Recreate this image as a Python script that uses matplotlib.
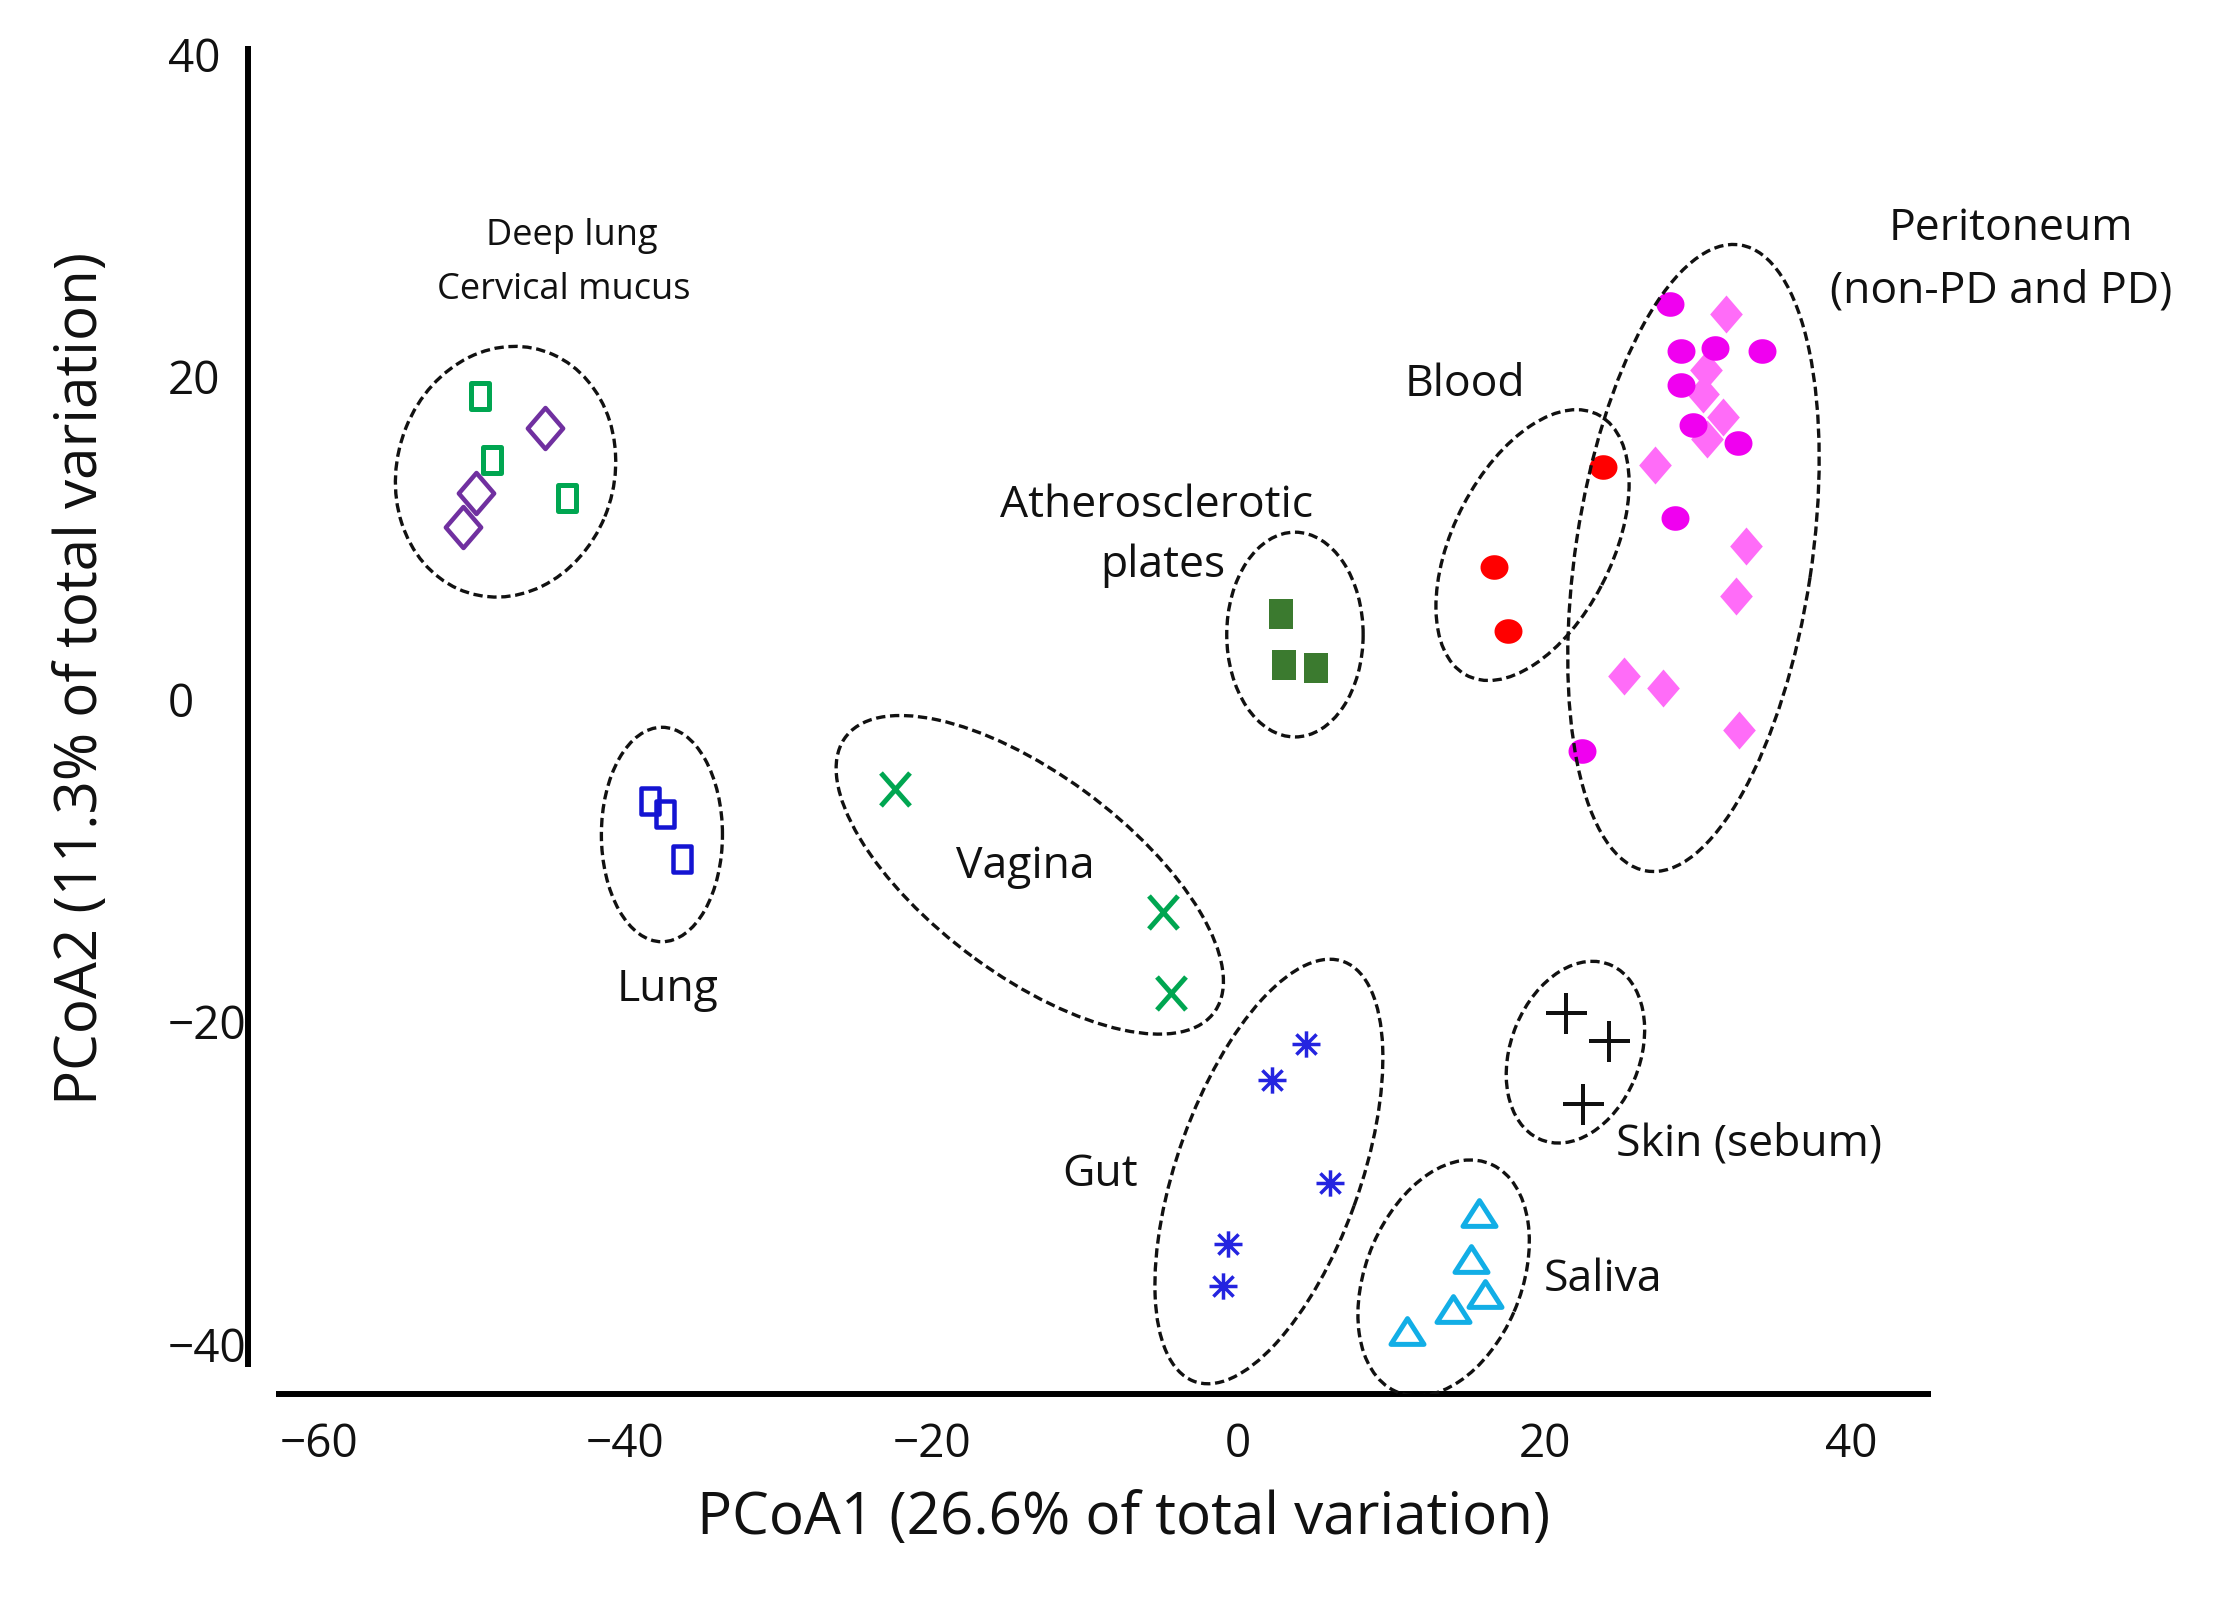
import matplotlib
matplotlib.use('Agg')
import matplotlib.pyplot as plt
from matplotlib.patches import Ellipse
from matplotlib.path import Path
import numpy as np

plt.rcParams['font.family'] = ['Open Sans', 'DejaVu Sans']

# ---------------- data (PCoA coordinates) ----------------
deep_lung_x = [-49.5, -48.7, -43.8]
deep_lung_y = [18.8, 14.8, 12.5]
cervical_x = [-45.2, -49.7, -50.6]
cervical_y = [16.8, 12.8, 10.7]
lung_x = [-38.4, -37.4, -36.3]
lung_y = [-6.3, -7.1, -9.9]
vagina_x = [-22.4, -4.9, -4.4]
vagina_y = [-5.6, -13.2, -18.2]
plates_x = [2.8, 3.0, 5.1]
plates_y = [5.3, 2.1, 1.9]
gut_x = [4.4, 2.2, 6.0, -0.7, -1.0]
gut_y = [-21.4, -23.6, -30.0, -33.8, -36.4]
saliva_x = [15.7, 15.2, 16.1, 14.0, 11.0]
saliva_y = [-31.9, -34.7, -36.9, -37.8, -39.2]
skin_x = [21.4, 24.2, 22.5]
skin_y = [-19.5, -21.2, -25.1]
blood_x = [23.8, 16.7, 17.6]
blood_y = [14.4, 8.2, 4.2]
peri_circle_x = [28.2, 28.9, 31.1, 34.2, 28.9, 29.7, 32.6, 28.5, 22.4]
peri_circle_y = [24.5, 21.6, 21.8, 21.6, 19.5, 17.0, 15.9, 11.2, -3.2]
peri_diamond_x = [31.8, 30.5, 30.3, 31.6, 30.6, 27.2, 33.1, 32.5, 25.2, 27.7, 32.7]
peri_diamond_y = [23.9, 20.4, 18.9, 17.5, 16.1, 14.5, 9.5, 6.4, 1.4, 0.7, -1.9]

# cluster ellipses: centre, major axis, minor axis, angle (deg)
ell_cx = [-47.8, -37.6, -13.6, 3.7, 2.0, 13.4, 22.0, 19.2, 29.7]
ell_cy = [14.1, -8.4, -10.9, 4.0, -29.3, -35.9, -21.9, 9.55, 8.75]
ell_major = [15.8, 13.3, 29.5, 12.7, 27.8, 15.4, 11.75, 18.3, 39.3]
ell_minor = [14.1, 7.9, 12.6, 8.9, 11.9, 10.1, 8.4, 10.3, 15.4]
ell_angle = [66.8, 90, -34.8, 90, 69.2, 65.6, 66.2, 61.3, 81.0]

# labels
label_text = ['Deep lung', 'Cervical mucus', 'Lung', 'Vagina', 'Atherosclerotic', 'plates',
              'Blood', 'Peritoneum', '(non-PD and PD)', 'Gut', 'Skin (sebum)', 'Saliva']
label_x = [-43.5, -44.0, -37.2, -13.9, -5.3, -4.9, 14.8, 50.4, 49.8, -9.0, 33.3, 23.8]
label_y = [28.7, 25.4, -18.0, -10.4, 12.0, 8.25, 19.5, 29.2, 25.3, -29.5, -27.6, -36.0]
label_size = [26, 26, 32, 32, 32, 32, 32, 32, 32, 32, 32, 32]

xticks = [-60, -40, -20, 0, 20, 40]
yticks = [-40, -20, 0, 20, 40]

# ---------------- marker shapes ----------------
rect_m = Path([(-0.35, -0.5), (0.35, -0.5), (0.35, 0.5), (-0.35, 0.5), (0, 0)],
              [Path.MOVETO, Path.LINETO, Path.LINETO, Path.LINETO, Path.CLOSEPOLY])
frect_m = Path([(-0.4, -0.5), (0.4, -0.5), (0.4, 0.5), (-0.4, 0.5), (0, 0)],
               [Path.MOVETO, Path.LINETO, Path.LINETO, Path.LINETO, Path.CLOSEPOLY])
diam_m = Path([(0, 0.5), (0.43, 0), (0, -0.5), (-0.43, 0), (0, 0)],
              [Path.MOVETO, Path.LINETO, Path.LINETO, Path.LINETO, Path.CLOSEPOLY])
t = np.linspace(0, 2 * np.pi, 40)
oval_m = Path(np.column_stack([0.5 * np.cos(t), 0.44 * np.sin(t)]), closed=True)
x_m = Path([(-0.44, -0.5), (0.44, 0.5), (-0.44, 0.5), (0.44, -0.5)],
           [Path.MOVETO, Path.LINETO, Path.MOVETO, Path.LINETO])
ast_m = Path([(-0.5, 0), (0.5, 0), (0, -0.47), (0, 0.47), (-0.36, -0.36), (0.36, 0.36),
              (-0.36, 0.36), (0.36, -0.36)],
             [Path.MOVETO, Path.LINETO] * 4)
tri_m = Path([(0, 0.39), (0.5, -0.39), (-0.5, -0.39), (0, 0)],
             [Path.MOVETO, Path.LINETO, Path.LINETO, Path.CLOSEPOLY])

fig = plt.figure(figsize=(22.15, 15.99), dpi=100)
ax = fig.add_axes([0.1120, 0.1282, 0.8718 - 0.1120, 0.9712 - 0.1282])
ax.set_xlim(-64.6, 45.2)
ax.set_ylim(-43.1, 40.5)

def pts(px):
    return px * 0.72

ax.plot(deep_lung_x, deep_lung_y, ls='none', marker=rect_m, ms=pts(27), mfc='none',
        mec='#00a651', mew=pts(5), zorder=3)
ax.plot(cervical_x, cervical_y, ls='none', marker=diam_m, ms=pts(41), mfc='none',
        mec='#7030a0', mew=pts(4.5), zorder=3)
ax.plot(lung_x, lung_y, ls='none', marker=rect_m, ms=pts(27), mfc='none',
        mec='#1414d2', mew=pts(4.5), zorder=3)
ax.plot(vagina_x, vagina_y, ls='none', marker=x_m, ms=pts(33), mfc='none',
        mec='#00a651', mew=pts(5), zorder=3)
ax.plot(plates_x, plates_y, ls='none', marker=frect_m, ms=pts(30), mfc='#3b7a2f',
        mec='none', mew=0, zorder=3)
ax.plot(gut_x, gut_y, ls='none', marker=ast_m, ms=pts(28), mfc='none',
        mec='#2424e0', mew=pts(3.5), zorder=3)
ax.plot(saliva_x, saliva_y, ls='none', marker=tri_m, ms=pts(33), mfc='none',
        mec='#12aee6', mew=pts(5), zorder=3)
ax.plot(skin_x, skin_y, ls='none', marker='+', ms=pts(41), mec='#111111',
        mew=pts(4), zorder=3)
ax.plot(blood_x, blood_y, ls='none', marker=oval_m, ms=pts(28), mfc='#ff0000',
        mec='none', mew=0, zorder=3)
ax.plot(peri_diamond_x, peri_diamond_y, ls='none', marker=diam_m, ms=pts(38),
        mfc='#ff6cf8', mec='none', mew=0, zorder=3)
ax.plot(peri_circle_x, peri_circle_y, ls='none', marker=oval_m, ms=pts(28),
        mfc='#f000f0', mec='none', mew=0, zorder=3)

for cx, cy, w, h, a in zip(ell_cx, ell_cy, ell_major, ell_minor, ell_angle):
    e = Ellipse((cx, cy), w, h, angle=a, fill=False, edgecolor='#111111',
                lw=2.4, linestyle=(0, (2.8, 1.4)), zorder=4)
    ax.add_patch(e)

for s, x, y, fs in zip(label_text, label_x, label_y, label_size):
    ax.text(x, y, s, fontsize=fs, ha='center', va='center', color='#111111',
            clip_on=False, zorder=5)

# axes styling
for side in ['top', 'right']:
    ax.spines[side].set_visible(False)
ax.spines['left'].set_linewidth(4.3)
ax.spines['bottom'].set_linewidth(4.3)
ax.spines['left'].set_bounds(-41.4, 40.5)
ax.spines['bottom'].set_bounds(-62.8, 45.2)
ax.spines['left'].set_capstyle('butt')
ax.spines['bottom'].set_capstyle('butt')

ax.set_xticks(xticks)
ax.set_yticks(yticks)
ax.set_xticklabels([str(v).replace('-', '\u2212') for v in xticks])
ax.set_yticklabels([str(v).replace('-', '\u2212') for v in yticks])
ax.tick_params(axis='both', length=0, labelsize=33, colors='#111111')
ax.tick_params(axis='x', pad=20)
ax.tick_params(axis='y', pad=57.6)
for lab in ax.get_yticklabels():
    lab.set_horizontalalignment('left')

fig.text(0.5075, 0.05, 'PCoA1 (26.6% of total variation)', fontsize=42,
         ha='center', va='center', color='#111111')
fig.text(0.037, 0.576, 'PCoA2 (11.3% of total variation)', fontsize=42,
         rotation=90, ha='center', va='center', color='#111111')

fig.savefig('out.png', dpi=100, facecolor='white')
